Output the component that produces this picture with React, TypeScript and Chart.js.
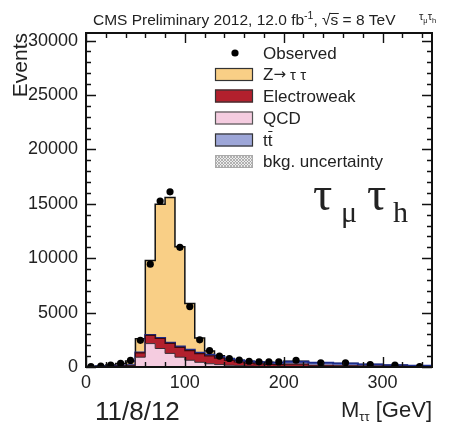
import { useEffect, useRef } from "react";
import { Chart, registerables } from "chart.js";

Chart.register(...registerables);

// Mass bins (GeV): 10 GeV wide up to 200, then 25 GeV wide
const binEdges = [0, 10, 20, 30, 40, 50, 60, 70, 80, 90, 100, 110, 120, 130, 140, 150, 160, 170, 180, 190, 200, 225, 250, 275, 300, 325, 350];

const observed = [30, 80, 180, 330, 600, 2450, 9450, 15250, 16100, 11000, 5550, 2500, 1500, 1000, 780, 630, 530, 475, 470, 470, 620, 390, 390, 230, 170, 30];
const qcd = [10, 20, 40, 60, 100, 900, 2150, 1700, 1250, 900, 620, 430, 300, 220, 160, 120, 90, 70, 50, 40, 60, 40, 25, 15, 10, 5];
const electroweak = [5, 10, 20, 30, 40, 400, 750, 920, 920, 910, 880, 800, 720, 600, 450, 340, 270, 220, 190, 170, 200, 120, 90, 60, 40, 25];
const ttbar = [5, 5, 10, 15, 20, 30, 40, 50, 60, 70, 80, 90, 100, 110, 120, 130, 140, 150, 160, 170, 230, 230, 200, 160, 120, 90];
const zTauTau = [20, 55, 110, 215, 390, 1270, 6860, 12300, 13340, 9180, 4250, 1350, 350, 110, 60, 40, 30, 30, 30, 20, 30, 10, 5, 5, 0, 0];

const xTickValues = [0, 100, 200, 300];
const yTickValues = [0, 5000, 10000, 15000, 20000, 25000, 30000];

const SANS = "'Liberation Sans', Arial, sans-serif";
const SERIF = "'Liberation Serif', 'Times New Roman', serif";
const INK = "#222";

const COLORS = {
  z: "#F9CF86",
  ew: "#B2202D",
  qcd: "#F5CCE0",
  tt: "#9DA6D8",
};

function drawFrameAndTicks(chart: Chart) {
  const { ctx, chartArea: a, scales } = chart;
  const xs = scales.x;
  const ys = scales.y;
  ctx.save();
  ctx.strokeStyle = "#111";
  ctx.lineWidth = 1.4;
  ctx.beginPath();
  // x ticks (top and bottom, pointing inward)
  for (let v = 0; v <= 350; v += 20) {
    const px = Math.round(xs.getPixelForValue(v)) + 0.5;
    const len = v % 100 === 0 ? 10 : 5;
    ctx.moveTo(px, a.bottom);
    ctx.lineTo(px, a.bottom - len);
    ctx.moveTo(px, a.top);
    ctx.lineTo(px, a.top + len);
  }
  // y ticks (left and right, pointing inward)
  for (let v = 0; v <= 30000; v += 1000) {
    const py = Math.round(ys.getPixelForValue(v)) + 0.5;
    const len = v % 5000 === 0 ? 10 : 5;
    ctx.moveTo(a.left, py);
    ctx.lineTo(a.left + len, py);
    ctx.moveTo(a.right, py);
    ctx.lineTo(a.right - len, py);
  }
  ctx.stroke();
  ctx.lineWidth = 2;
  ctx.strokeRect(a.left, a.top, a.right - a.left, a.bottom - a.top);
  ctx.restore();
}

function textRun(ctx: CanvasRenderingContext2D, parts: { t: string; font: string; dy?: number }[], x: number, y: number) {
  let cx = x;
  for (const p of parts) {
    ctx.font = p.font;
    ctx.fillText(p.t, cx, y + (p.dy || 0));
    cx += ctx.measureText(p.t).width;
  }
  return cx;
}

function runWidth(ctx: CanvasRenderingContext2D, parts: { t: string; font: string }[]) {
  let w = 0;
  for (const p of parts) {
    ctx.font = p.font;
    w += ctx.measureText(p.t).width;
  }
  return w;
}

function drawLegend(ctx: CanvasRenderingContext2D) {
  const boxX = 215;
  const boxW = 38;
  const boxH = 13;
  const textX = 263;
  const rows = [53, 74.5, 96, 118, 140, 161.5];
  const lf = `17px ${SANS}`;
  ctx.save();
  ctx.fillStyle = INK;
  ctx.textBaseline = "middle";
  ctx.font = lf;

  // Observed marker
  ctx.beginPath();
  ctx.arc(235, rows[0], 3.6, 0, Math.PI * 2);
  ctx.fillStyle = "#000";
  ctx.fill();
  ctx.fillStyle = INK;
  ctx.fillText("Observed", textX, rows[0] + 1);

  const boxes = [
    { fill: COLORS.z, line: "#333" },
    { fill: COLORS.ew, line: "#333" },
    { fill: COLORS.qcd, line: "#555" },
    { fill: COLORS.tt, line: "#333" },
  ];
  boxes.forEach((b, i) => {
    const y = rows[i + 1];
    ctx.fillStyle = b.fill;
    ctx.fillRect(boxX, y - boxH / 2, boxW, boxH);
    ctx.strokeStyle = b.line;
    ctx.lineWidth = 1.2;
    ctx.strokeRect(boxX + 0.5, y - boxH / 2 + 0.5, boxW - 1, boxH - 1);
  });

  ctx.fillStyle = INK;
  textRun(ctx, [
    { t: "Z", font: lf },
    { t: "\u2192", font: `15px 'DejaVu Sans', sans-serif` },
    { t: " \u03c4 \u03c4", font: `15px ${SANS}` },
  ], textX, rows[1] + 1);
  ctx.font = lf;
  ctx.fillText("Electroweak", textX, rows[2] + 1);
  ctx.fillText("QCD", textX, rows[3] + 1);
  ctx.fillText("tt", textX, rows[4] + 1);

  // bar over the second t of tt
  const tw = ctx.measureText("t").width;
  ctx.strokeStyle = INK;
  ctx.lineWidth = 1;
  ctx.beginPath();
  ctx.moveTo(textX + tw + 0.5, rows[4] - 8.5);
  ctx.lineTo(textX + 2 * tw, rows[4] - 8.5);
  ctx.stroke();

  // hatched uncertainty box
  const hy = rows[5] - boxH / 2;
  ctx.fillStyle = "#ececec";
  ctx.fillRect(boxX, hy, boxW, boxH);
  ctx.save();
  ctx.beginPath();
  ctx.rect(boxX, hy, boxW, boxH);
  ctx.clip();
  ctx.strokeStyle = "#9a9a9a";
  ctx.lineWidth = 0.7;
  ctx.beginPath();
  for (let d = -boxH; d < boxW + boxH; d += 3) {
    ctx.moveTo(boxX + d, hy);
    ctx.lineTo(boxX + d + boxH, hy + boxH);
    ctx.moveTo(boxX + d + boxH, hy);
    ctx.lineTo(boxX + d, hy + boxH);
  }
  ctx.stroke();
  ctx.restore();
  ctx.strokeStyle = "#aaa";
  ctx.lineWidth = 1;
  ctx.strokeRect(boxX + 0.5, hy + 0.5, boxW - 1, boxH - 1);
  ctx.fillStyle = INK;
  ctx.font = lf;
  ctx.fillText("bkg. uncertainty", textX, rows[5] + 1);
  ctx.restore();
}

function drawTexts(chart: Chart) {
  const ctx = chart.ctx;
  ctx.save();
  ctx.fillStyle = INK;
  ctx.textBaseline = "alphabetic";
  ctx.textAlign = "left";

  // header line
  const tf = `15.5px ${SANS}`;
  const x = textRun(ctx, [
    { t: "CMS Preliminary 2012, 12.0 fb", font: tf },
    { t: "-1", font: `10.5px ${SANS}`, dy: -6 },
    { t: ", ", font: tf },
  ], 93, 25);
  ctx.font = tf;
  const rootW = ctx.measureText("\u221a").width;
  ctx.fillText("\u221as", x, 25);
  const sW = ctx.measureText("s").width;
  ctx.strokeStyle = INK;
  ctx.lineWidth = 1;
  ctx.beginPath();
  ctx.moveTo(x + rootW - 1, 13.5);
  ctx.lineTo(x + rootW + sW + 0.5, 13.5);
  ctx.stroke();
  ctx.fillText(" = 8 TeV", x + rootW + sW, 25);

  // channel tag, top right
  textRun(ctx, [
    { t: "\u03c4", font: `11px ${SANS}` },
    { t: "\u03bc", font: `7.5px ${SANS}`, dy: 3 },
    { t: "\u03c4", font: `11px ${SANS}` },
    { t: "h", font: `7.5px ${SANS}`, dy: 3 },
  ], 419, 20);

  // big channel label inside the frame
  const big = `48px ${SERIF}`;
  const sub = `30px ${SERIF}`;
  ctx.font = big;
  ctx.fillText("\u03c4", 313, 210);
  ctx.font = sub;
  ctx.fillText("\u03bc", 341, 222);
  ctx.font = big;
  ctx.fillText("\u03c4", 367, 210);
  ctx.font = sub;
  ctx.fillText("h", 393, 222);

  // date stamp
  ctx.font = `26px ${SANS}`;
  ctx.fillText("11/8/12", 95, 420);

  // x-axis title, right aligned to the frame
  const xt = [
    { t: "M", font: `22px ${SANS}` },
    { t: "\u03c4\u03c4", font: `13px ${SANS}`, dy: 4 },
    { t: " [GeV]", font: `22px ${SANS}` },
  ];
  const w = runWidth(ctx, xt);
  textRun(ctx, xt, chart.chartArea.right - w, 417);

  // y-axis title, rotated, right aligned to the top of the frame
  ctx.save();
  ctx.translate(27, chart.chartArea.top);
  ctx.rotate(-Math.PI / 2);
  ctx.textAlign = "right";
  ctx.font = `21px ${SANS}`;
  ctx.fillText("Events", 0, 0);
  ctx.restore();

  drawLegend(ctx);
  ctx.restore();
}

export default function App() {
  const canvasRef = useRef<HTMLCanvasElement>(null);

  useEffect(() => {
    const canvas = canvasRef.current;
    if (!canvas) return;
    const nBins = binEdges.length - 1;

    // stacked step histograms, drawn bottom to top
    const stack = [
      { label: "QCD", values: qcd, fill: COLORS.qcd, line: "#3b2a33", width: 1 },
      { label: "Electroweak", values: electroweak, fill: COLORS.ew, line: "#3a0a0e", width: 1.2 },
      { label: "tt", values: ttbar, fill: COLORS.tt, line: "#1C2C8C", width: 2 },
      { label: "Z\u2192\u03c4\u03c4", values: zTauTau, fill: COLORS.z, line: "#111", width: 1.5 },
    ];
    let running = new Array(nBins).fill(0);
    const stackSets = stack.map((s, k) => {
      running = running.map((r: number, i: number) => r + s.values[i]);
      const cum = running;
      return {
        label: s.label,
        data: binEdges.map((e, i) => ({ x: e, y: cum[Math.min(i, nBins - 1)] })),
        stepped: true as const,
        fill: k === 0 ? "origin" : "-1",
        backgroundColor: s.fill,
        borderColor: s.line,
        borderWidth: s.width,
        pointRadius: 0,
        order: 2,
      };
    });

    const obsSet = {
      label: "Observed",
      data: observed.map((v, i) => ({ x: (binEdges[i] + binEdges[i + 1]) / 2, y: v })),
      showLine: false,
      pointRadius: 3.6,
      pointBackgroundColor: "#000",
      pointBorderColor: "#000",
      pointBorderWidth: 0,
      fill: false,
      order: 0,
    };

    const chart = new Chart(canvas, {
      type: "line",
      data: { datasets: [...stackSets, obsSet] as any },
      options: {
        responsive: false,
        animation: false,
        layout: { padding: { top: 33, right: 17, left: 0, bottom: 0 } },
        plugins: {
          legend: { display: false },
          tooltip: { enabled: false },
        },
        scales: {
          x: {
            type: "linear",
            min: 0,
            max: 350,
            grid: { display: false, drawTicks: false },
            border: { display: false },
            afterBuildTicks: (s: any) => {
              s.ticks = xTickValues.map((v) => ({ value: v }));
            },
            afterFit: (s: any) => {
              s.height = 58;
            },
            ticks: {
              padding: 5,
              color: INK,
              font: { family: SANS, size: 18 },
              maxRotation: 0,
              callback: (v: any) => String(v),
            },
          },
          y: {
            type: "linear",
            min: 0,
            max: 30700,
            grid: { display: false, drawTicks: false },
            border: { display: false },
            afterBuildTicks: (s: any) => {
              s.ticks = yTickValues.map((v) => ({ value: v }));
            },
            afterFit: (s: any) => {
              s.width = 86;
            },
            ticks: {
              padding: 8,
              color: INK,
              font: { family: SANS, size: 18 },
              callback: (v: any) => String(v),
            },
          },
        },
      },
      plugins: [
        {
          id: "paper",
          beforeDraw: (c: Chart) => {
            const g = c.ctx;
            g.save();
            g.fillStyle = "#fff";
            g.fillRect(0, 0, c.width, c.height);
            g.restore();
          },
          afterDatasetsDraw: (c: Chart) => drawFrameAndTicks(c),
          afterDraw: (c: Chart) => drawTexts(c),
        },
      ],
    });

    return () => chart.destroy();
  }, []);

  return (
    <div style={{ position: "fixed", left: 0, top: 0, width: 449, height: 425, background: "#fff" }}>
      <canvas ref={canvasRef} width={449} height={425} style={{ display: "block" }} />
    </div>
  );
}
